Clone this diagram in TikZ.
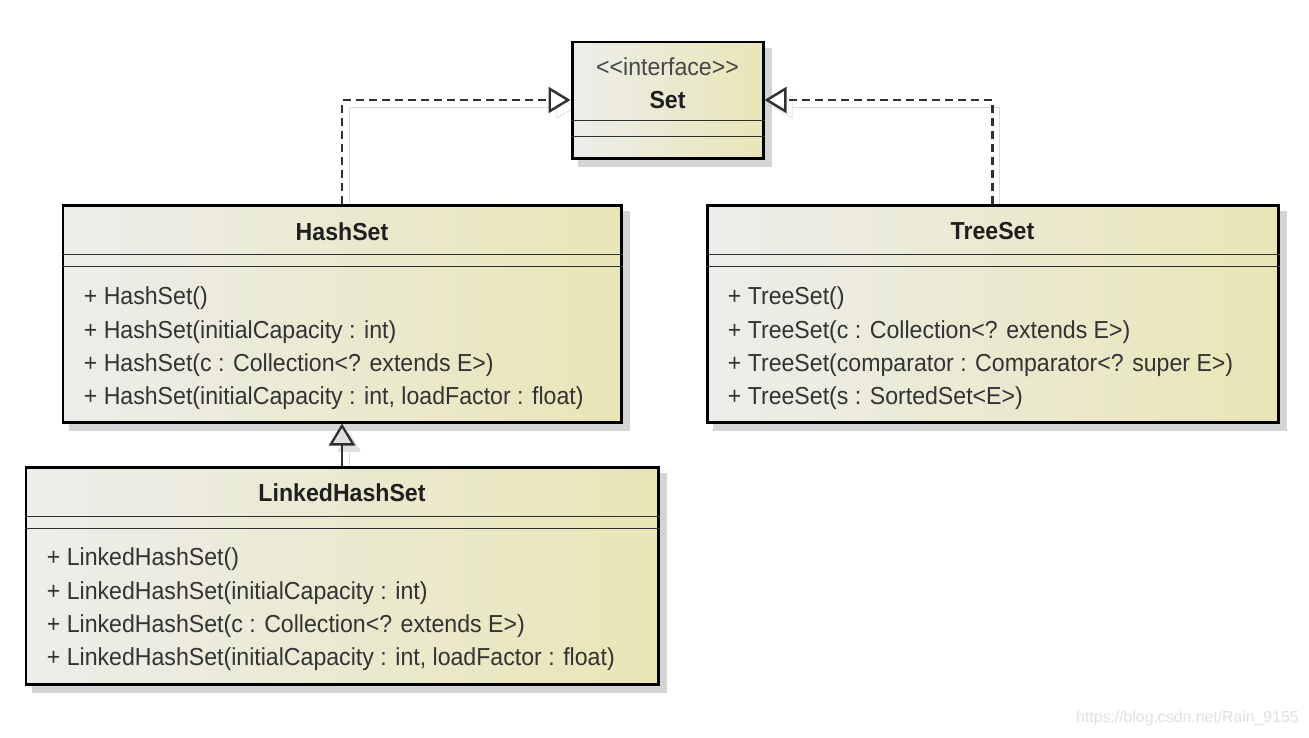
\documentclass[tikz,border=0pt]{standalone}
\usepackage{fontspec}
\setmainfont{Liberation Sans}
\newfontfamily\umlfont[FakeStretch=0.94]{Liberation Sans}
\usetikzlibrary{arrows.meta,backgrounds,positioning}

\definecolor{umlgray}{HTML}{EDEDEB}
\definecolor{umlyellow}{HTML}{E8E6B6}
\definecolor{umlline}{HTML}{303030}

\begin{document}
\begin{tikzpicture}[
  cls/.style={draw=black,line width=1.7pt,left color=umlgray,right color=umlyellow,inner sep=0pt},
  boxshadow/.style={fill=black!17},
  divider/.style={draw=umlline,line width=1.1pt},
  clsname/.style={font=\umlfont\fontsize{14}{16}\selectfont\bfseries,text=black!88},
  stereo/.style={font=\umlfont\fontsize{14}{16}\selectfont,text=black!72},
  ops/.style={anchor=west,align=left,inner sep=0pt,font=\umlfont\fontsize{14}{19}\selectfont,text=black!80},
  lineshadow/.style={preaction={draw=black!14,solid,transform canvas={shift={(0.14,-0.14)}}}},
  realize/.style={draw=umlline,line width=1.4pt,dash pattern=on 0.16cm off 0.1cm,lineshadow,
    -{Triangle[open,fill=white,length=0.44cm,width=0.52cm]}},
  extend/.style={draw=umlline,line width=1.3pt,lineshadow,
    -{Triangle[open,fill=black!12,length=0.44cm,width=0.52cm]}}
]
  \useasboundingbox (0,0) rectangle (26.18,-14.74);

  \node[cls,minimum width=3.82cm,minimum height=2.32cm] (set) at (13.35,-2.0) {};
  \node[stereo] (setst) at ([yshift=-0.52cm]set.north) {<{}<interface>{}>};
  \node[clsname] (setnm) at ([yshift=-1.2cm]set.north) {Set};
  \draw[divider] ([yshift=-1.6cm]set.north west) -- ([yshift=-1.6cm]set.north east);
  \draw[divider] ([yshift=-1.92cm]set.north west) -- ([yshift=-1.92cm]set.north east);

  \node[cls,minimum width=11.16cm,minimum height=4.34cm] (hs) at (6.84,-6.27) {};
  \node[clsname] (hsnm) at ([yshift=-0.56cm]hs.north) {HashSet};
  \draw[divider] ([yshift=-1.02cm]hs.north west) -- ([yshift=-1.02cm]hs.north east);
  \draw[divider] ([yshift=-1.26cm]hs.north west) -- ([yshift=-1.26cm]hs.north east);
  \node[ops] (hsops) at ([shift={(0.44,-2.9)}]hs.north west)
    {+ HashSet()\\
     + HashSet(initialCapacity : int)\\
     + HashSet(c : Collection<? extends E>)\\
     + HashSet(initialCapacity : int, loadFactor : float)};

  \node[cls,minimum width=11.42cm,minimum height=4.34cm] (ts) at (19.85,-6.27) {};
  \node[clsname] (tsnm) at ([yshift=-0.56cm]ts.north) {TreeSet};
  \draw[divider] ([yshift=-1.02cm]ts.north west) -- ([yshift=-1.02cm]ts.north east);
  \draw[divider] ([yshift=-1.26cm]ts.north west) -- ([yshift=-1.26cm]ts.north east);
  \node[ops] (tsops) at ([shift={(0.44,-2.9)}]ts.north west)
    {+ TreeSet()\\
     + TreeSet(c : Collection<? extends E>)\\
     + TreeSet(comparator : Comparator<? super E>)\\
     + TreeSet(s : SortedSet<E>)};

  \node[cls,minimum width=12.64cm,minimum height=4.34cm] (lhs) at (6.84,-11.51) {};
  \node[clsname] (lhsnm) at ([yshift=-0.54cm]lhs.north) {LinkedHashSet};
  \draw[divider] ([yshift=-1.02cm]lhs.north west) -- ([yshift=-1.02cm]lhs.north east);
  \draw[divider] ([yshift=-1.26cm]lhs.north west) -- ([yshift=-1.26cm]lhs.north east);
  \node[ops] (lhsops) at ([shift={(0.44,-2.88)}]lhs.north west)
    {+ LinkedHashSet()\\
     + LinkedHashSet(initialCapacity : int)\\
     + LinkedHashSet(c : Collection<? extends E>)\\
     + LinkedHashSet(initialCapacity : int, loadFactor : float)};

  \begin{scope}[on background layer]
    \fill[boxshadow] ([shift={(0.15,-0.15)}]set.south west) rectangle ([shift={(0.15,-0.15)}]set.north east);
    \fill[boxshadow] ([shift={(0.15,-0.15)}]hs.south west) rectangle ([shift={(0.15,-0.15)}]hs.north east);
    \fill[boxshadow] ([shift={(0.15,-0.15)}]ts.south west) rectangle ([shift={(0.15,-0.15)}]ts.north east);
    \fill[boxshadow] ([shift={(0.15,-0.15)}]lhs.south west) rectangle ([shift={(0.15,-0.15)}]lhs.north east);
    \draw[realize] (hs) |- (set);
    \draw[realize] (ts) |- (set);
    \draw[extend] (lhs) -- (hs);
  \end{scope}

  \node[anchor=east,inner sep=0pt,text=black!12,font=\fontsize{9}{10}\selectfont] (wm) at (25.98,-14.36) {https://blog.csdn.net/Rain\_9155};
\end{tikzpicture}
\end{document}
